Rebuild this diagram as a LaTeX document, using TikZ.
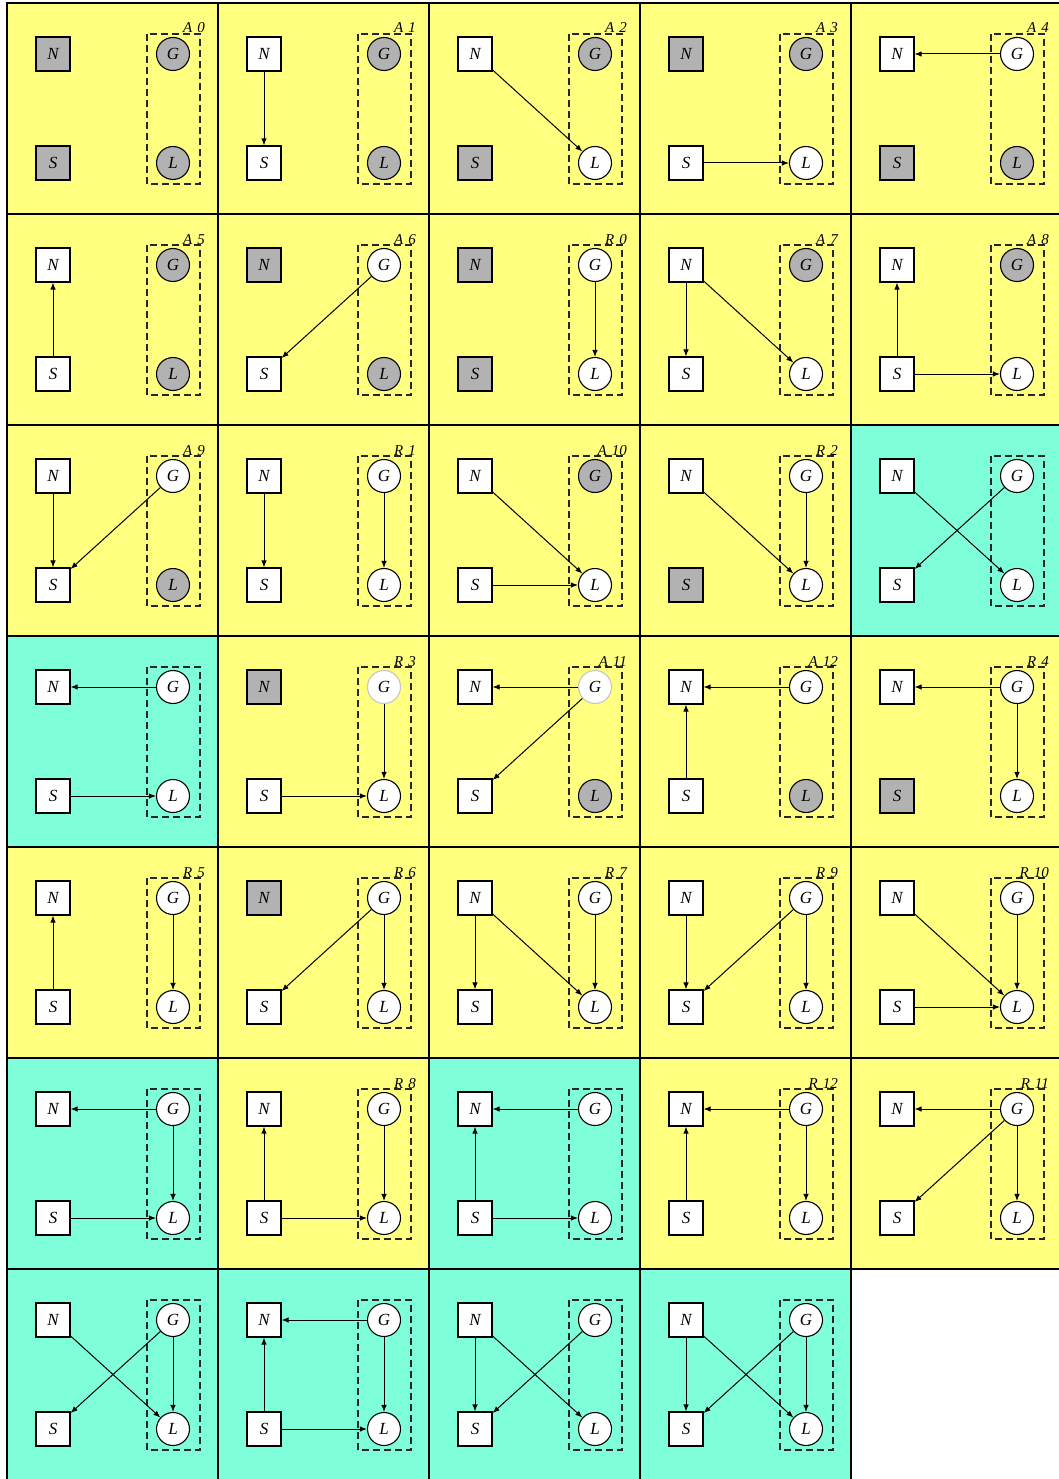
\documentclass[tikz,border=0pt]{standalone}
\usepackage{fontspec}
\setmainfont{Liberation Serif}
\usepackage{tikz}
\usetikzlibrary{arrows.meta}
\definecolor{yel}{HTML}{FFFF80}
\definecolor{aqua}{HTML}{7FFFD9}

% one panel: column, row, tag, background, N, S, G, L looks, edges
\newcommand{\panel}[9]{%
  \begin{scope}[shift={(7+211*#1,3+211*#2)}]
    \draw[frame, fill=#4] (0,0) rectangle (211,211);
    \draw[group] (140,31) rectangle (193,181);
    \node[tag] (t) at (198,30) {#3};
    \node[box, #5]  (N) at (46,51)  {N};
    \node[box, #6]  (S) at (46,160) {S};
    \node[dot, #7]  (G) at (166,51) {G};
    \node[dot, #8]  (L) at (166,160) {L};
    \foreach \a/\b in {#9} \draw[arrow] (\a) -- (\b);
  \end{scope}}

\begin{document}
\begin{tikzpicture}[
    x=1pt, y=-1pt,
    frame/.style={draw=black, line width=1.3pt},
    group/.style={draw=black!85, line width=1.1pt, dash pattern=on 7pt off 4pt},
    box/.style={draw=black, line width=1.1pt, minimum size=34pt, inner sep=0pt,
                font=\fontsize{17}{17}\selectfont\itshape},
    dot/.style={draw=black, line width=1.1pt, circle, minimum size=33pt, inner sep=0pt,
                font=\fontsize{17}{17}\selectfont\itshape},
    grey/.style={fill=gray!60},
    clear/.style={fill=white},
    faint/.style={fill=white, draw=gray!45},
    tag/.style={anchor=base east, inner sep=0pt, font=\fontsize{15}{15}\selectfont\itshape},
    arrow/.style={-{Latex[length=7pt,width=5.5pt]}, line width=1pt},
  ]
  \useasboundingbox (0,0) rectangle (1059,1479);
  \fill[white] (0,0) rectangle (1059,1479);

  % row 1
  \panel{0}{0}{A\,\,0}{yel}{grey}{grey}{grey}{grey}{}
  \panel{1}{0}{A\,\,1}{yel}{clear}{clear}{grey}{grey}{N/S}
  \panel{2}{0}{A\,\,2}{yel}{clear}{grey}{grey}{clear}{N/L}
  \panel{3}{0}{A\,\,3}{yel}{grey}{clear}{grey}{clear}{S/L}
  \panel{4}{0}{A\,\,4}{yel}{clear}{grey}{clear}{grey}{G/N}
  % row 2
  \panel{0}{1}{A\,\,5}{yel}{clear}{clear}{grey}{grey}{S/N}
  \panel{1}{1}{A\,\,6}{yel}{grey}{clear}{clear}{grey}{G/S}
  \panel{2}{1}{R\,\,0}{yel}{grey}{grey}{clear}{clear}{G/L}
  \panel{3}{1}{A\,\,7}{yel}{clear}{clear}{grey}{clear}{N/S,N/L}
  \panel{4}{1}{A\,\,8}{yel}{clear}{clear}{grey}{clear}{S/N,S/L}
  % row 3
  \panel{0}{2}{A\,\,9}{yel}{clear}{clear}{clear}{grey}{N/S,G/S}
  \panel{1}{2}{R\,\,1}{yel}{clear}{clear}{clear}{clear}{N/S,G/L}
  \panel{2}{2}{A\,\,10}{yel}{clear}{clear}{grey}{clear}{N/L,S/L}
  \panel{3}{2}{R\,\,2}{yel}{clear}{grey}{clear}{clear}{N/L,G/L}
  \panel{4}{2}{}{aqua}{clear}{clear}{clear}{clear}{N/L,G/S}
  % row 4
  \panel{0}{3}{}{aqua}{clear}{clear}{clear}{clear}{G/N,S/L}
  \panel{1}{3}{R\,\,3}{yel}{grey}{clear}{faint}{clear}{G/L,S/L}
  \panel{2}{3}{A\,\,11}{yel}{clear}{clear}{faint}{grey}{G/N,G/S}
  \panel{3}{3}{A\,\,12}{yel}{clear}{clear}{clear}{grey}{G/N,S/N}
  \panel{4}{3}{R\,\,4}{yel}{clear}{grey}{clear}{clear}{G/N,G/L}
  % row 5
  \panel{0}{4}{R\,\,5}{yel}{clear}{clear}{clear}{clear}{S/N,G/L}
  \panel{1}{4}{R\,\,6}{yel}{grey}{clear}{clear}{clear}{G/S,G/L}
  \panel{2}{4}{R\,\,7}{yel}{clear}{clear}{clear}{clear}{N/S,N/L,G/L}
  \panel{3}{4}{R\,\,9}{yel}{clear}{clear}{clear}{clear}{N/S,G/S,G/L}
  \panel{4}{4}{R\,\,10}{yel}{clear}{clear}{clear}{clear}{N/L,S/L,G/L}
  % row 6
  \panel{0}{5}{}{aqua}{clear}{clear}{clear}{clear}{G/N,G/L,S/L}
  \panel{1}{5}{R\,\,8}{yel}{clear}{clear}{clear}{clear}{S/N,G/L,S/L}
  \panel{2}{5}{}{aqua}{clear}{clear}{clear}{clear}{G/N,S/N,S/L}
  \panel{3}{5}{R\,\,12}{yel}{clear}{clear}{clear}{clear}{G/N,S/N,G/L}
  \panel{4}{5}{R\,\,11}{yel}{clear}{clear}{clear}{clear}{G/N,G/S,G/L}
  % row 7
  \panel{0}{6}{}{aqua}{clear}{clear}{clear}{clear}{N/L,G/S,G/L}
  \panel{1}{6}{}{aqua}{clear}{clear}{clear}{clear}{G/N,S/N,G/L,S/L}
  \panel{2}{6}{}{aqua}{clear}{clear}{clear}{clear}{N/S,N/L,G/S}
  \panel{3}{6}{}{aqua}{clear}{clear}{clear}{clear}{N/S,N/L,G/S,G/L}
\end{tikzpicture}
\end{document}
